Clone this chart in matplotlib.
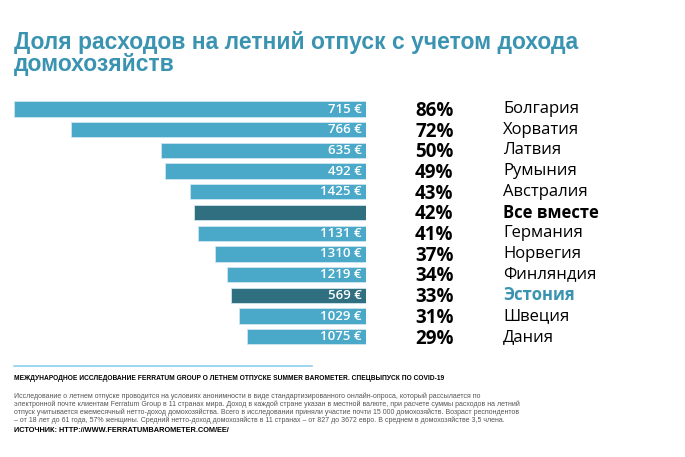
import matplotlib
matplotlib.use("Agg")
import matplotlib.pyplot as plt

countries = ["Болгария","Хорватия","Латвия","Румыния","Австралия","Все вместе","Германия","Норвегия","Финляндия","Эстония","Швеция","Дания"]
shares = [86,72,50,49,43,42,41,37,34,33,31,29]
amounts = ["715 €","766 €","635 €","492 €","1425 €","","1131 €","1310 €","1219 €","569 €","1029 €","1075 €"]

W,H = 685,457
fig = plt.figure(figsize=(6.85,4.57), dpi=100)
fig.patch.set_facecolor("white")
light, dark, teal = "#4aa9c9", "#2f6f80", "#3a93b0"
top, step = 109, 20.7
n = len(countries)
y0 = top - step/2; y1 = top + step*(n-0.5)
ax = fig.add_axes([14/W, 1-y1/H, (366-14)/W, (y1-y0)/H])
ax.set_xlim(86,0); ax.set_ylim(n-0.5,-0.5); ax.axis("off")
for i,(c,s,a) in enumerate(zip(countries,shares,amounts)):
    col = dark if c in ("Все вместе","Эстония") else light
    ax.barh(i, s, height=0.74, color=col, edgecolor="#cfe6ee", linewidth=0.6)
    if a:
        ax.text(1, i, a, color="white", ha="right", va="center", fontsize=9.5, family="Open Sans", fontweight="semibold")
    yy = 1-(top+step*i)/H
    fig.text(415/W, yy-0.004, f"{s}%", fontsize=13.5, fontweight="bold", family="Open Sans", va="center", color="black")
    fw = "bold" if c in ("Все вместе","Эстония") else "normal"
    fig.text(503/W, yy, c, fontsize=12, fontweight=fw, family="Open Sans", va="center", color=teal if c=="Эстония" else "black")

fig.text(14/W, 1-42/H, "Доля расходов на летний отпуск с учетом дохода", fontsize=16.5, fontweight="bold", family="Liberation Sans", color=teal, va="center")
fig.text(14/W, 1-64/H, "домохозяйств", fontsize=16.5, fontweight="bold", family="Liberation Sans", color=teal, va="center")
fig.add_artist(plt.Line2D([14/W,312/W],[1-366/H,1-366/H], color="#8fd0ea", lw=1.2))
fig.text(14/W, 1-378/H, "МЕЖДУНАРОДНОЕ ИССЛЕДОВАНИЕ FERRATUM GROUP О ЛЕТНЕМ ОТПУСКЕ SUMMER BAROMETER. СПЕЦВЫПУСК ПО COVID-19", fontsize=4.8, fontweight="bold", family="Liberation Sans", va="center")
body = ("Исследование о летнем отпуске проводится на условиях анонимности в виде стандартизированного онлайн-опроса, который рассылается по\n"
        "электронной почте клиентам Ferratum Group в 11 странах мира. Доход в каждой стране указан в местной валюте, при расчете суммы расходов на летний\n"
        "отпуск учитывается ежемесячный нетто-доход домохозяйства. Всего в исследовании приняли участие почти 15 000 домохозяйств. Возраст респондентов\n"
        "– от 18 лет до 61 года, 57% женщины. Средний нетто-доход домохозяйств в 11 странах – от 827 до 3672 евро. В среднем в домохозяйстве 3,5 члена.")
fig.text(14/W, 1-393/H, body, fontsize=5, family="Liberation Sans", color="#555555", va="top", linespacing=1.05)
fig.text(14/W, 1-431/H, "ИСТОЧНИК: HTTP://WWW.FERRATUMBAROMETER.COM/EE/", fontsize=5.3, fontweight="bold", family="Liberation Sans", va="center")
fig.savefig("out.png", dpi=100)
